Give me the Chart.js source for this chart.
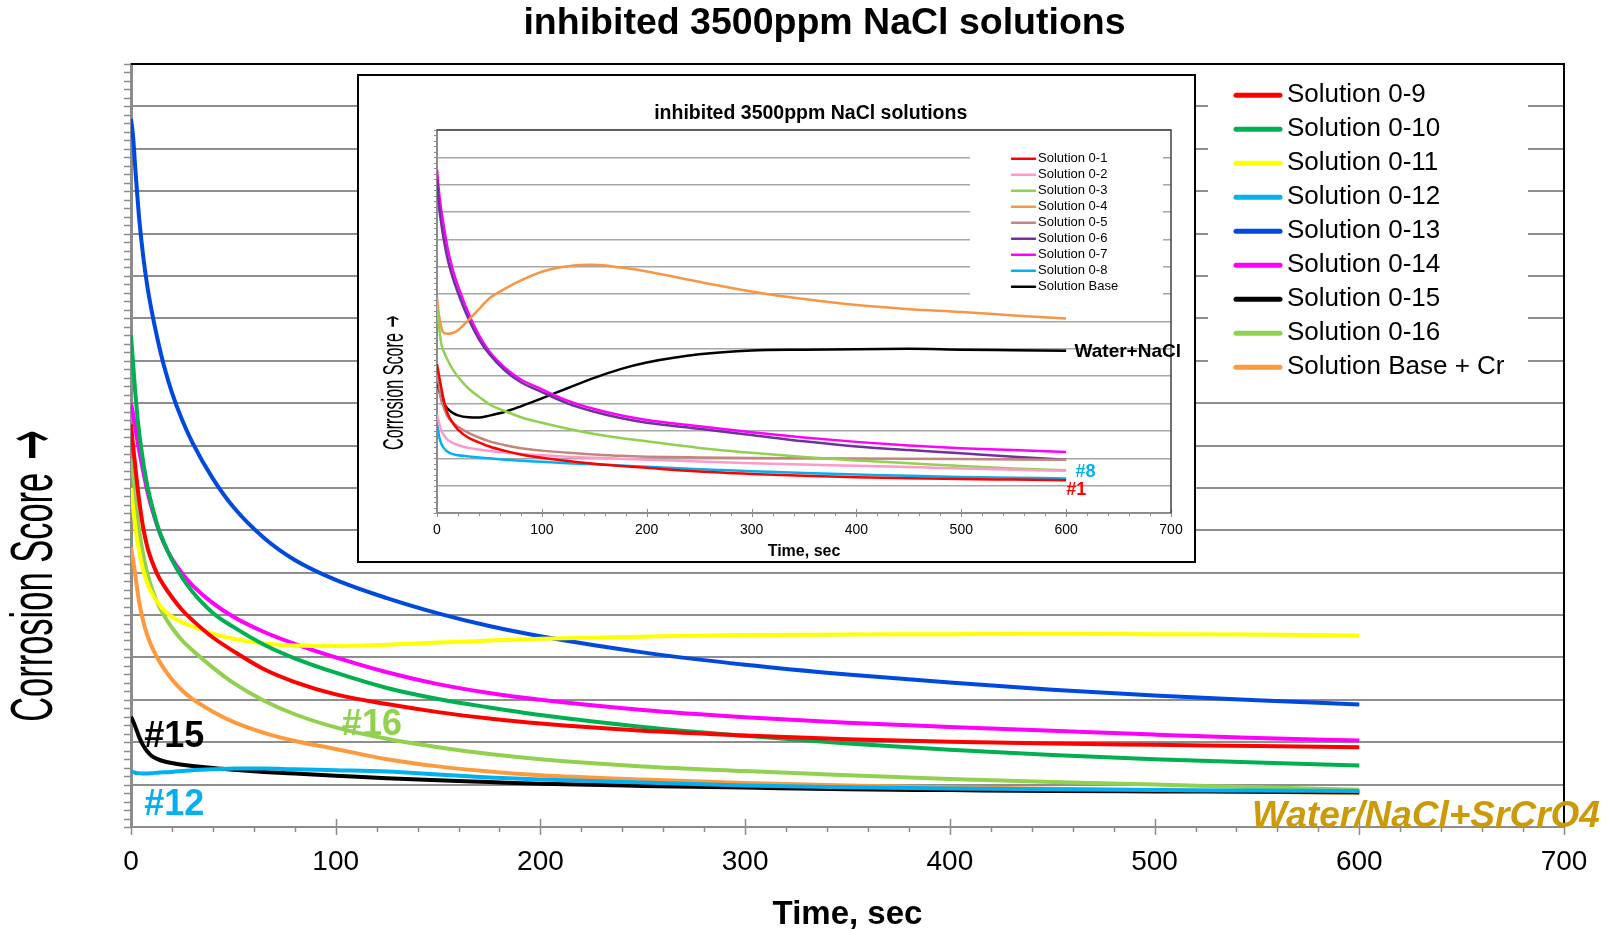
<!DOCTYPE html>
<html>
<head>
<meta charset="utf-8">
<script src="https://cdn.jsdelivr.net/npm/chart.js@4.4.1/dist/chart.umd.min.js"></script>
<style>
  html, body { margin: 0; padding: 0; background: #fff; }
  #wrap { position: relative; width: 1616px; height: 931px; overflow: hidden; }
  #main { position: absolute; left: 0; top: 0; }
  #insetBox { position: absolute; left: 357px; top: 74px; width: 835px; height: 485px; border: 2px solid #000; background: #fff; }
  #inset { position: absolute; left: 0; top: 0; }
</style>
</head>
<body>
<div id="wrap">
  <canvas id="main" width="1616" height="931"></canvas>
  <div id="insetBox"><canvas id="inset" width="835" height="485"></canvas></div>
</div>
<script>
const FONT = '"Liberation Sans", Arial, sans-serif';
const NARROW = '"Liberation Sans Narrow", "Liberation Sans", Arial, sans-serif';
const ARROW = '"DejaVu Sans", sans-serif';

// main chart: time (sec) and corrosion score
const mainTimes = [0, 1, 2, 3, 4, 6, 8, 10, 13, 16, 20, 25, 30, 40, 50, 65, 80, 100, 125, 150, 175, 200, 250, 300, 350, 400, 450, 500, 550, 600];
const sol09 = [9.5, 9.0, 8.55, 8.1, 7.7, 7.05, 6.6, 6.3, 5.95, 5.7, 5.42, 5.12, 4.88, 4.47, 4.15, 3.72, 3.42, 3.13, 2.9, 2.71, 2.56, 2.44, 2.27, 2.16, 2.07, 2.01, 1.97, 1.94, 1.91, 1.88];
const sol10 = [11.6, 10.95, 10.3, 9.75, 9.3, 8.6, 8.05, 7.63, 7.1, 6.72, 6.3, 5.88, 5.55, 5.05, 4.72, 4.3, 3.98, 3.64, 3.28, 3.02, 2.82, 2.64, 2.36, 2.15, 1.97, 1.82, 1.7, 1.6, 1.52, 1.45];
const sol11 = [8.0, 7.55, 7.12, 6.78, 6.5, 6.05, 5.75, 5.53, 5.3, 5.12, 4.96, 4.83, 4.73, 4.56, 4.44, 4.33, 4.28, 4.27, 4.3, 4.35, 4.4, 4.44, 4.49, 4.53, 4.54, 4.55, 4.56, 4.55, 4.54, 4.52];
const sol12 = [1.3, 1.3, 1.28, 1.27, 1.27, 1.26, 1.26, 1.27, 1.28, 1.29, 1.3, 1.32, 1.34, 1.36, 1.38, 1.38, 1.36, 1.34, 1.31, 1.24, 1.17, 1.12, 1.05, 0.98, 0.94, 0.91, 0.89, 0.87, 0.86, 0.85];
const sol13 = [16.7, 16.3, 15.6, 14.95, 14.35, 13.45, 12.75, 12.2, 11.5, 10.9, 10.25, 9.6, 9.07, 8.22, 7.55, 6.82, 6.3, 5.83, 5.4, 5.04, 4.74, 4.5, 4.12, 3.83, 3.6, 3.41, 3.24, 3.1, 2.99, 2.89];
const sol14 = [10.0, 9.75, 9.45, 9.15, 8.88, 8.38, 7.92, 7.55, 7.08, 6.7, 6.33, 5.98, 5.7, 5.28, 4.96, 4.6, 4.32, 4.0, 3.65, 3.37, 3.16, 3.0, 2.76, 2.59, 2.46, 2.36, 2.27, 2.18, 2.1, 2.04];
const sol15 = [2.6, 2.5, 2.38, 2.25, 2.12, 1.92, 1.78, 1.68, 1.6, 1.55, 1.51, 1.47, 1.44, 1.39, 1.35, 1.3, 1.26, 1.21, 1.15, 1.1, 1.06, 1.02, 0.97, 0.93, 0.89, 0.87, 0.85, 0.84, 0.83, 0.82];
const sol16 = [8.7, 8.3, 7.85, 7.4, 7.0, 6.42, 5.98, 5.65, 5.28, 5.0, 4.7, 4.4, 4.17, 3.76, 3.4, 2.98, 2.66, 2.35, 2.08, 1.88, 1.72, 1.6, 1.43, 1.32, 1.22, 1.13, 1.06, 1.0, 0.94, 0.88];
const solBaseCr = [6.6, 6.3, 5.98, 5.62, 5.3, 4.85, 4.52, 4.27, 3.98, 3.74, 3.48, 3.22, 3.02, 2.72, 2.48, 2.22, 2.03, 1.84, 1.6, 1.43, 1.31, 1.22, 1.12, 1.04, 0.98, 0.94, 0.9, 0.87, 0.83, 0.8];

const mainLabels = ['Solution 0-9', 'Solution 0-10', 'Solution 0-11', 'Solution 0-12', 'Solution 0-13', 'Solution 0-14', 'Solution 0-15', 'Solution 0-16', 'Solution Base + Cr'];
const mainSeries = [sol09, sol10, sol11, sol12, sol13, sol14, sol15, sol16, solBaseCr];
const mainColors = ['#FF0000', '#00B050', '#FFFF00', '#00B0F0', '#0049DF', '#FF00FF', '#000000', '#92D050', '#FF9A3C'];

// inset chart
const insetTimes = [0, 2, 4, 6, 10, 15, 20, 30, 40, 50, 65, 80, 100, 125, 150, 175, 200, 250, 300, 350, 400, 450, 500, 550, 600];
const sol01 = [5.45, 5.0, 4.6, 4.2, 3.65, 3.3, 3.05, 2.75, 2.58, 2.43, 2.27, 2.14, 2.02, 1.9, 1.8, 1.72, 1.65, 1.52, 1.43, 1.36, 1.31, 1.27, 1.24, 1.22, 1.2];
const sol02 = [3.6, 3.3, 3.02, 2.88, 2.68, 2.56, 2.48, 2.38, 2.32, 2.27, 2.21, 2.16, 2.11, 2.06, 2.02, 1.98, 1.95, 1.88, 1.82, 1.77, 1.73, 1.68, 1.63, 1.58, 1.54];
const sol03 = [7.6, 6.8, 6.2, 5.95, 5.6, 5.25, 4.98, 4.55, 4.25, 3.97, 3.72, 3.5, 3.3, 3.08, 2.89, 2.74, 2.62, 2.38, 2.2, 2.05, 1.92, 1.82, 1.72, 1.63, 1.56];
const sol04 = [7.9, 7.2, 6.8, 6.6, 6.55, 6.58, 6.68, 7.05, 7.45, 7.85, 8.2, 8.5, 8.82, 9.02, 9.07, 8.97, 8.83, 8.45, 8.1, 7.82, 7.6, 7.45, 7.35, 7.22, 7.11];
const sol05 = [5.2, 4.6, 4.12, 3.9, 3.53, 3.3, 3.15, 2.93, 2.76, 2.62, 2.48, 2.37, 2.28, 2.2, 2.14, 2.09, 2.06, 2.03, 2.01, 2.0, 1.99, 1.98, 1.97, 1.96, 1.95];
const sol06 = [12.2, 11.2, 10.6, 10.1, 9.3, 8.6, 8.05, 7.1, 6.35, 5.8, 5.2, 4.78, 4.42, 4.0, 3.7, 3.47, 3.3, 3.08, 2.85, 2.62, 2.43, 2.3, 2.18, 2.06, 1.95];
const sol07 = [12.55, 11.7, 11.1, 10.6, 9.7, 8.9, 8.3, 7.3, 6.5, 5.9, 5.3, 4.88, 4.52, 4.1, 3.8, 3.57, 3.4, 3.17, 2.95, 2.76, 2.6, 2.47, 2.37, 2.3, 2.23];
const sol08 = [3.3, 2.8, 2.54, 2.4, 2.24, 2.15, 2.11, 2.07, 2.03, 2.0, 1.95, 1.91, 1.87, 1.82, 1.78, 1.74, 1.69, 1.6, 1.53, 1.46, 1.41, 1.36, 1.32, 1.29, 1.26];
const solBase = [4.95, 4.5, 4.24, 4.05, 3.82, 3.66, 3.57, 3.5, 3.49, 3.56, 3.7, 3.9, 4.19, 4.57, 4.94, 5.26, 5.5, 5.8, 5.94, 5.97, 5.99, 6.0, 5.97, 5.95, 5.93];

const insetLabels = ['Solution 0-1', 'Solution 0-2', 'Solution 0-3', 'Solution 0-4', 'Solution 0-5', 'Solution 0-6', 'Solution 0-7', 'Solution 0-8', 'Solution Base'];
const insetSeries = [sol01, sol02, sol03, sol04, sol05, sol06, sol07, sol08, solBase];
const insetColors = ['#FF0000', '#FF99CC', '#92D050', '#F79646', '#C0877C', '#7030A0', '#FF00FF', '#00B0F0', '#000000'];

// axes
const xTickValues = [0, 100, 200, 300, 400, 500, 600, 700];
const mainGrid = [0, 1, 2, 3, 4, 5, 6, 7, 8, 9, 10, 11, 12, 13, 14, 15, 16, 17, 18];
const insetGrid = [0, 1, 2, 3, 4, 5, 6, 7, 8, 9, 10, 11, 12, 13, 14];

const pts = (ts, vs) => ts.map((t, i) => ({ x: t, y: vs[i] }));

function makeSets(labels, series, colors, times, width) {
  return labels.map((lab, i) => ({
    label: lab,
    data: pts(times, series[i]),
    borderColor: colors[i],
    backgroundColor: colors[i],
    borderWidth: width,
    pointRadius: 0,
    cubicInterpolationMode: 'monotone',
    fill: false
  }));
}

// ticks, frame, boxed legend, notes and titles drawn on top
function decor(o) {
  return {
    id: 'decor',
    afterDraw(chart) {
      const ctx = chart.ctx, a = chart.chartArea, xs = chart.scales.x, ys = chart.scales.y;
      ctx.save();
      ctx.strokeStyle = o.tickColor;
      ctx.lineWidth = o.tickWidth;
      ctx.beginPath();
      for (let v = xs.min; v <= xs.max; v += 20) {
        const px = Math.round(xs.getPixelForValue(v)) + 0.5;
        const major = v % 100 === 0;
        ctx.moveTo(px, a.bottom - (major ? o.xMajor : 0));
        ctx.lineTo(px, a.bottom + (major ? o.xMajor : o.xMinor));
      }
      for (let i = 0; i <= ys.max * 5; i++) {
        const py = Math.round(ys.getPixelForValue(i / 5)) + 0.5;
        ctx.moveTo(a.left - o.yMinor, py);
        ctx.lineTo(a.left, py);
      }
      ctx.stroke();

      ctx.strokeStyle = o.frameColor;
      ctx.lineWidth = o.frameWidth;
      ctx.beginPath();
      ctx.moveTo(a.left, a.top);
      ctx.lineTo(a.right, a.top);
      ctx.lineTo(a.right, a.bottom);
      ctx.stroke();

      const L = o.legend;
      ctx.fillStyle = '#fff';
      ctx.fillRect(L.box[0], L.box[1], L.box[2] - L.box[0], L.box[3] - L.box[1]);
      ctx.font = L.font;
      ctx.textAlign = 'left';
      ctx.textBaseline = 'middle';
      ctx.lineCap = 'round';
      chart.data.datasets.forEach((ds, i) => {
        const yy = L.y + i * L.dy;
        ctx.strokeStyle = ds.borderColor;
        ctx.lineWidth = L.lineWidth;
        ctx.beginPath();
        ctx.moveTo(L.x0, yy);
        ctx.lineTo(L.x1, yy);
        ctx.stroke();
        ctx.fillStyle = '#000';
        ctx.fillText(ds.label, L.tx, yy);
      });

      o.notes.forEach(n => {
        ctx.font = n.font;
        ctx.fillStyle = n.color;
        ctx.textAlign = 'left';
        ctx.textBaseline = n.baseline;
        ctx.fillText(n.text, xs.getPixelForValue(n.x), ys.getPixelForValue(n.y));
      });

      ctx.font = o.title.font;
      ctx.fillStyle = '#000';
      ctx.textAlign = 'center';
      ctx.textBaseline = 'middle';
      ctx.fillText(o.title.text, o.title.x, o.title.y);

      // rotated, condensed axis title pieces
      o.ytitle.forEach(T => {
        ctx.save();
        ctx.translate(T.x, T.y);
        ctx.rotate(-Math.PI / 2);
        ctx.font = T.font;
        const w = ctx.measureText(T.text).width;
        ctx.scale(T.len / w, 1);
        ctx.fillText(T.text, 0, 0);
        ctx.restore();
      });
      ctx.restore();
    }
  };
}

new Chart(document.getElementById('main'), {
  type: 'line',
  data: { datasets: makeSets(mainLabels, mainSeries, mainColors, mainTimes, 4) },
  options: {
    responsive: false,
    animation: false,
    devicePixelRatio: 1,
    layout: { padding: { top: 64, right: 52, left: 0, bottom: 0 } },
    plugins: { legend: { display: false }, title: { display: false }, tooltip: { enabled: false } },
    scales: {
      x: {
        type: 'linear', min: 0, max: 700,
        afterBuildTicks: ax => { ax.ticks = xTickValues.map(v => ({ value: v })); },
        afterFit: ax => { ax.height = 104; },
        grid: { drawOnChartArea: false, drawTicks: false },
        border: { color: '#8c8c8c', width: 2 },
        ticks: { color: '#000', font: { family: FONT, size: 28 }, padding: 18, maxRotation: 0 },
        title: { display: true, text: 'Time, sec', color: '#000', font: { family: FONT, size: 33, weight: 'bold', lineHeight: 1 }, padding: { top: 0, bottom: 0 } }
      },
      y: {
        type: 'linear', min: 0, max: 18,
        afterBuildTicks: ax => { ax.ticks = mainGrid.map(v => ({ value: v })); },
        afterFit: ax => { ax.width = 131; },
        grid: { color: '#8e8e8e', lineWidth: 2, drawTicks: false },
        border: { color: '#8c8c8c', width: 3 },
        ticks: { display: false }
      }
    }
  },
  plugins: [decor({
    tickColor: '#8c8c8c', tickWidth: 1.5, xMajor: 8, xMinor: 5, yMinor: 7,
    frameColor: '#000', frameWidth: 2,
    legend: { box: [1208, 68, 1528, 392], x0: 1236, x1: 1280, tx: 1287, y: 95.3, dy: 34, lineWidth: 5, font: '26px ' + FONT },
    notes: [
      { text: '#15', x: 6.5, y: 1.89, color: '#000', font: 'bold 36px ' + FONT, baseline: 'alphabetic' },
      { text: '#12', x: 6.5, y: 0.28, color: '#00B0F0', font: 'bold 36px ' + FONT, baseline: 'alphabetic' },
      { text: '#16', x: 103, y: 2.16, color: '#92D050', font: 'bold 36px ' + FONT, baseline: 'alphabetic' },
      { text: 'Water/NaCl+SrCrO4', x: 547.6, y: 0, color: '#CC9A06', font: 'italic bold 37px ' + FONT, baseline: 'alphabetic' }
    ],
    title: { text: 'inhibited 3500ppm NaCl solutions', x: 824.5, y: 24, font: 'bold 37.5px ' + FONT },
    ytitle: [
      { text: 'Corrosion Score', x: 35.5, y: 597.3, len: 249, font: '60px ' + NARROW },
      { text: '→', x: 36, y: 445, len: 30, font: '76px ' + ARROW }
    ]
  })]
});

new Chart(document.getElementById('inset'), {
  type: 'line',
  data: { datasets: makeSets(insetLabels, insetSeries, insetColors, insetTimes, 2.5) },
  options: {
    responsive: false,
    animation: false,
    devicePixelRatio: 1,
    layout: { padding: { top: 54, right: 23, left: 0, bottom: 0 } },
    plugins: { legend: { display: false }, title: { display: false }, tooltip: { enabled: false } },
    scales: {
      x: {
        type: 'linear', min: 0, max: 700,
        afterBuildTicks: ax => { ax.ticks = xTickValues.map(v => ({ value: v })); },
        afterFit: ax => { ax.height = 48; },
        grid: { drawOnChartArea: false, drawTicks: false },
        border: { color: '#8c8c8c', width: 2 },
        ticks: { color: '#000', font: { family: FONT, size: 14 }, padding: 9, maxRotation: 0 },
        title: { display: true, text: 'Time, sec', color: '#000', font: { family: FONT, size: 16, weight: 'bold' }, padding: { top: 0, bottom: 0 } }
      },
      y: {
        type: 'linear', min: 0, max: 14,
        afterBuildTicks: ax => { ax.ticks = insetGrid.map(v => ({ value: v })); },
        afterFit: ax => { ax.width = 78; },
        grid: { color: '#a6a6a6', lineWidth: 1.5, drawTicks: false },
        border: { color: '#8c8c8c', width: 2 },
        ticks: { display: false }
      }
    }
  },
  plugins: [decor({
    tickColor: '#8c8c8c', tickWidth: 1, xMajor: 4, xMinor: 3, yMinor: 3,
    frameColor: '#404040', frameWidth: 1.5,
    legend: { box: [611, 66, 804, 231], x0: 653, x1: 676, tx: 679, y: 82.7, dy: 16, lineWidth: 2.5, font: '13px ' + FONT },
    notes: [
      { text: 'Water+NaCl', x: 608, y: 5.89, color: '#000', font: 'bold 19px ' + FONT, baseline: 'middle' },
      { text: '#8', x: 609, y: 1.5, color: '#00B0F0', font: 'bold 18px ' + FONT, baseline: 'middle' },
      { text: '#1', x: 600, y: 0.83, color: '#FF0000', font: 'bold 18px ' + FONT, baseline: 'middle' }
    ],
    title: { text: 'inhibited 3500ppm NaCl solutions', x: 451.7, y: 37.3, font: 'bold 19.5px ' + FONT },
    ytitle: [
      { text: 'Corrosion Score', x: 35.7, y: 315.5, len: 117, font: '30px ' + NARROW },
      { text: '→', x: 35.7, y: 245.7, len: 12, font: '30px ' + ARROW }
    ]
  })]
});
</script>
</body>
</html>
